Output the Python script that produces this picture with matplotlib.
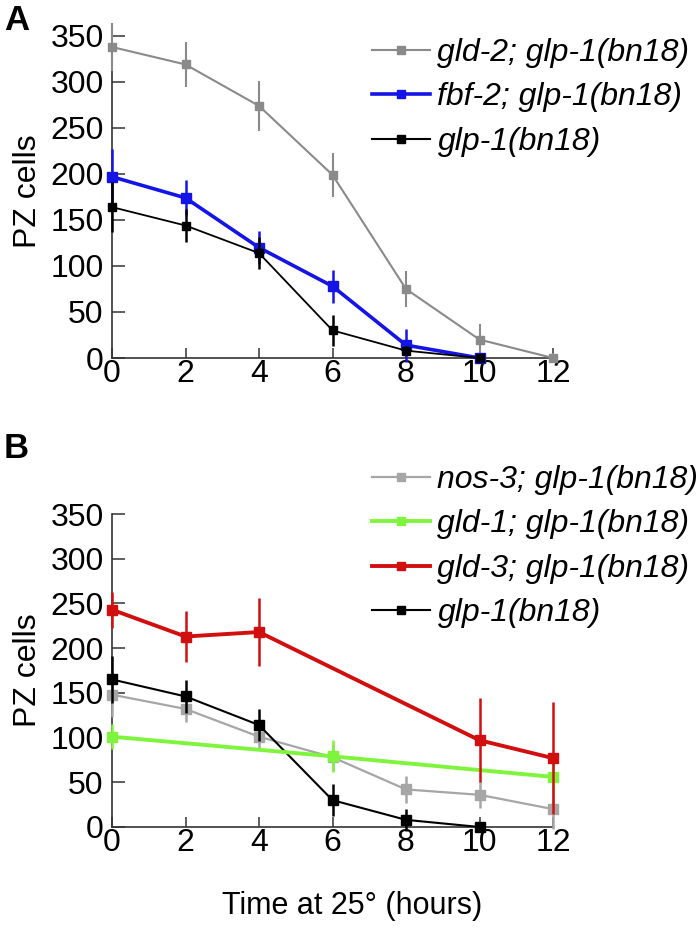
import matplotlib
matplotlib.use("Agg")
import matplotlib.pyplot as plt
from matplotlib.lines import Line2D

plt.rcParams['font.family'] = ['Liberation Sans', 'DejaVu Sans']

# ---------------- Data ----------------
# Panel A
a_gld2_x = [0, 2, 4, 6, 8, 10, 12]
a_gld2_y = [338, 319, 274, 199, 75, 20, 0]
a_gld2_e = [26, 24, 27, 24, 20, 17, 5]

a_fbf2_x = [0, 2, 4, 6, 8, 10]
a_fbf2_y = [197, 174, 120, 78, 14, 0]
a_fbf2_e = [30, 19, 18, 18, 18, 2]

a_glp1_x = [0, 2, 4, 6, 8, 10]
a_glp1_y = [164, 144, 114, 30, 8, 0]
a_glp1_e = [27, 18, 17, 17, 5, 2]

# Panel B
b_nos3_x = [0, 2, 4, 6, 8, 10, 12]
b_nos3_y = [148, 132, 101, 78, 42, 36, 20]
b_nos3_e = [25, 15, 14, 15, 15, 15, 22]

b_gld1_x = [0, 6, 12]
b_gld1_y = [101, 79, 56]
b_gld1_e = [14, 18, 16]

b_gld3_x = [0, 2, 4, 10, 12]
b_gld3_y = [243, 213, 218, 97, 77]
b_gld3_e = [20, 29, 38, 47, 63]

b_glp1_x = [0, 2, 4, 6, 8, 10]
b_glp1_y = [165, 146, 114, 30, 8, 0]
b_glp1_e = [26, 18, 18, 18, 12, 2]

labels_a = ['gld-2; glp-1(bn18)', 'fbf-2; glp-1(bn18)', 'glp-1(bn18)']
labels_b = ['nos-3; glp-1(bn18)', 'gld-1; glp-1(bn18)', 'gld-3; glp-1(bn18)', 'glp-1(bn18)']
xticks = [0, 2, 4, 6, 8, 10, 12]
yticks = [0, 50, 100, 150, 200, 250, 300, 350]

# ---------------- Styles ----------------
C_GRAY_A = '#8a8a8a'
C_GRAY_B = '#a6a6a6'
C_BLUE = '#1414e6'
C_GREEN = '#7ef53c'
C_RED = '#d10f0f'
C_BLACK = '#000000'

fig = plt.figure(figsize=(6.98, 9.34), dpi=100)

def px(x):
    return x / 698.0

def py(y):
    return 1 - y / 934.0

axA = fig.add_axes([px(112), py(358), px(553) - px(112), (358 - 24) / 934.0])
axB = fig.add_axes([px(112), py(827), px(553) - px(112), (827 - 514) / 934.0])

TICK_FS = 23

def style_axis(ax, ytop):
    ax.set_xlim(0, 12)
    ax.set_ylim(0, ytop)
    ax.spines['top'].set_visible(False)
    ax.spines['right'].set_visible(False)
    for s in ('left', 'bottom'):
        ax.spines[s].set_color('#333333')
        ax.spines[s].set_linewidth(1.2)
    ax.set_xticks(xticks)
    ax.set_yticks(yticks)
    ax.tick_params(axis='y', direction='in', length=9, width=1.1, colors='#333333',
                   labelcolor='black', labelsize=TICK_FS, pad=6)
    ax.tick_params(axis='x', direction='in', length=7, width=1.1, colors='#333333',
                   labelcolor='black', labelsize=TICK_FS, pad=1)
    ax.set_ylabel('PZ cells', fontsize=TICK_FS, labelpad=5)
    ax.patch.set_alpha(0)

def series(ax, x, y, e, color, lw, ms, elw, z):
    ax.errorbar(x, y, yerr=e, color=color, lw=lw, marker='s', ms=ms,
                mec=color, mfc=color, elinewidth=elw, capsize=0, zorder=z,
                clip_on=False)

style_axis(axA, 363)
series(axA, a_gld2_x, a_gld2_y, a_gld2_e, C_GRAY_A, 1.5, 6, 1.5, 3)
series(axA, a_fbf2_x, a_fbf2_y, a_fbf2_e, C_BLUE, 2.6, 6.5, 1.8, 4)
series(axA, a_glp1_x, a_glp1_y, a_glp1_e, C_BLACK, 1.3, 5.5, 1.8, 5)

style_axis(axB, 350)
series(axB, b_nos3_x, b_nos3_y, b_nos3_e, C_GRAY_B, 1.6, 6.5, 1.8, 3)
series(axB, b_glp1_x, b_glp1_y, b_glp1_e, C_BLACK, 1.5, 6.5, 1.8, 4)
series(axB, b_gld1_x, b_gld1_y, b_gld1_e, C_GREEN, 2.8, 6.5, 1.8, 5)
series(axB, b_gld3_x, b_gld3_y, b_gld3_e, C_RED, 2.8, 7, 1.8, 6)

def make_handle(color, lw, ms):
    return Line2D([0], [0], color=color, lw=lw, marker='s', ms=ms, mec=color, mfc=color)

hA = [make_handle(C_GRAY_A, 1.5, 5.5), make_handle(C_BLUE, 2.6, 5.5), make_handle(C_BLACK, 1.5, 5.5)]
hB = [make_handle(C_GRAY_B, 1.6, 5.5), make_handle(C_GREEN, 2.8, 5.5),
      make_handle(C_RED, 2.8, 5.5), make_handle(C_BLACK, 1.5, 5.5)]

leg_kw = dict(loc='upper left', frameon=False, handlelength=1.8, handletextpad=0.25,
              labelspacing=0.45, borderpad=0, borderaxespad=0,
              prop={'size': TICK_FS, 'style': 'italic'})
legA = fig.legend(hA, labels_a, bbox_to_anchor=(px(372), py(38)), **leg_kw)
legB = fig.legend(hB, labels_b, bbox_to_anchor=(px(372), py(465)), **leg_kw)

fig.text(px(4), py(20), 'A', fontsize=25, fontweight='bold', va='center', ha='left')
fig.text(px(4), py(448), 'B', fontsize=25, fontweight='bold', va='center', ha='left')
fig.text(px(352), py(906), 'Time at 25\u00b0 (hours)', fontsize=22, ha='center', va='center')

fig.savefig('out.png', dpi=100)
